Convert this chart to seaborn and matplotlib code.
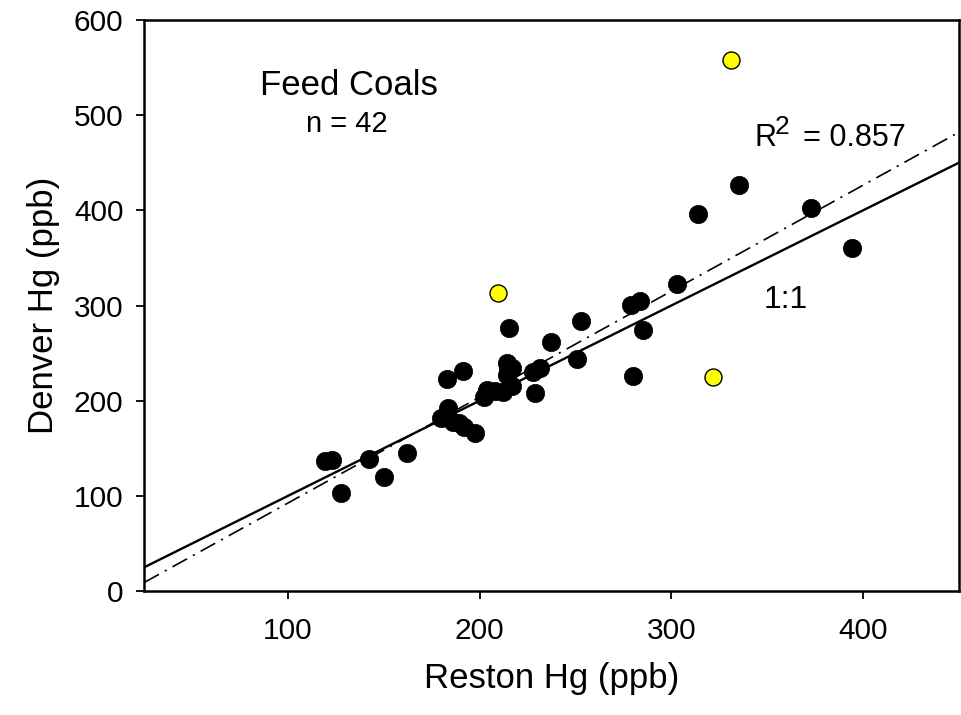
import matplotlib
matplotlib.use("Agg")
import matplotlib.pyplot as plt
import seaborn as sns
import numpy as np
import pandas as pd

# ---- data ----
black_x = [119.3, 122.7, 127.7, 142.0, 150.3, 162.3, 179.9, 183.0, 183.3, 191.4,
           189.2, 191.9, 197.6, 202.3, 203.9, 212.3, 216.8, 214.0, 217.0, 214.3,
           215.5, 229.0, 227.7, 231.6, 237.2, 252.7, 250.9, 279.9, 285.4, 278.8,
           283.5, 303.0, 313.8, 335.2, 372.8, 394.1, 208.0, 215.0, 186.0]
black_y = [136.6, 137.6, 103.5, 138.7, 119.5, 144.6, 181.4, 223.2, 191.9, 231.4,
           176.5, 172.3, 165.7, 204.3, 211.1, 209.3, 215.0, 240.0, 234.8, 226.9,
           276.1, 207.7, 230.4, 233.9, 261.2, 283.3, 243.4, 226.2, 274.2, 300.4,
           304.6, 322.2, 396.0, 426.5, 402.3, 360.8, 210.0, 232.0, 178.0]
yellow_x = [331.3, 209.6, 321.7]
yellow_y = [558.2, 313.0, 224.8]

reg_slope = 1.113
reg_intercept = -18.8
line_x = [25, 450]

x_ticks = [100, 200, 300, 400]
y_ticks = [0, 100, 200, 300, 400, 500, 600]

sns.set_style("ticks")
plt.rcParams['font.family'] = ['Liberation Sans', 'DejaVu Sans']
plt.rcParams['text.color'] = 'black'
plt.rcParams['axes.labelcolor'] = 'black'
plt.rcParams['xtick.color'] = 'black'
plt.rcParams['ytick.color'] = 'black'

fig = plt.figure(figsize=(9.62, 7.15), dpi=100)
ax = fig.add_axes([0.150, 0.1734, 0.8467, 0.7986])

df_b = pd.DataFrame({"x": black_x, "y": black_y})
df_y = pd.DataFrame({"x": yellow_x, "y": yellow_y})

# 1:1 line
ax.plot(line_x, line_x, color="black", lw=1.7, zorder=2)
# regression line
reg_y = [reg_slope * v + reg_intercept for v in line_x]
ax.plot(line_x, reg_y, color="black", lw=1.2, dashes=(10, 4, 1.3, 4), zorder=2)

sns.scatterplot(data=df_b, x="x", y="y", ax=ax, color="black", s=175,
                edgecolor="black", linewidth=0.5, zorder=3, legend=False)
sns.scatterplot(data=df_y, x="x", y="y", ax=ax, color="#ffff00", s=150,
                edgecolor="black", linewidth=1.0, zorder=3, legend=False)

ax.set_xlim(25, 450)
ax.set_ylim(0, 600)
ax.set_xticks(x_ticks)
ax.set_yticks(y_ticks)

for sp in ax.spines.values():
    sp.set_linewidth(1.8)
    sp.set_color("black")

ax.tick_params(axis="both", direction="out", length=6, width=1.3,
               labelsize=21.5, colors="black")
ax.tick_params(axis="x", pad=13)
ax.tick_params(axis="y", pad=9)

ax.set_xlabel("Reston Hg (ppb)", fontsize=25, labelpad=12)
ax.set_ylabel("Denver Hg (ppb)", fontsize=25, labelpad=10)

ax.text(131.7, 530.8, "Feed Coals", fontsize=25, ha="center", va="center")
ax.text(130.8, 490.5, "n = 42", fontsize=21, ha="center", va="center")
ax.text(343.2, 467.4, "R", fontsize=22, ha="left", va="baseline")
ax.text(353.8, 480.0, "2", fontsize=19, ha="left", va="baseline")
ax.text(368.7, 467.4, "= 0.857", fontsize=22, ha="left", va="baseline")
ax.text(359.5, 305.7, "1:1", fontsize=23, ha="center", va="center")

fig.savefig("out.png", dpi=100)
